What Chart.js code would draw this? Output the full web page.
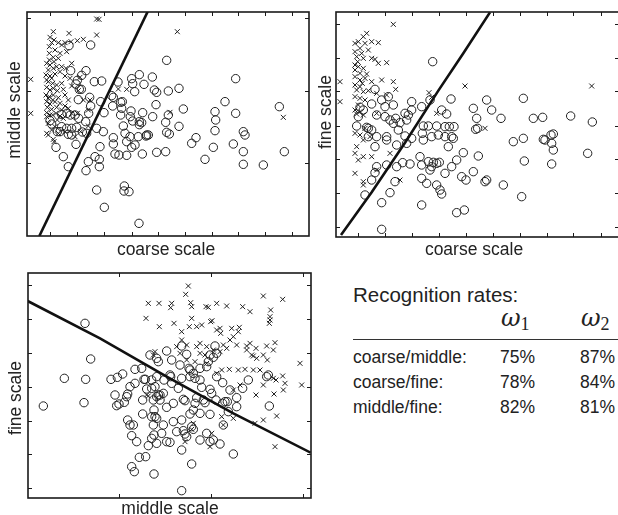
<!DOCTYPE html>
<html lang="en">

<head>
    <meta charset="UTF-8">
    <title>Recognition rates</title>
    <style>
        body {
            margin: 0;
            background: #fff;
            font-family: "Liberation Sans", Arial, sans-serif;
            color: #222;
        }

        #page {
            position: relative;
            width: 618px;
            height: 515px;
            overflow: hidden;
        }

        canvas {
            position: absolute;
        }

        .lbl {
            position: absolute;
            font-size: 17.5px;
            line-height: 20px;
            height: 20px;
            white-space: nowrap;
        }

        .rot {
            transform: translate(-50%, -50%) rotate(-90deg);
        }

        .hor {
            transform: translate(-50%, -50%);
        }

        .omega {
            font-family: "DejaVu Serif", "Liberation Serif", serif;
            font-style: italic;
            font-size: 24px;
        }

        .omega sub {
            font-family: "Liberation Serif", serif;
            font-style: normal;
            font-size: 18px;
            vertical-align: -4px;
        }
    </style>
</head>

<body>
    <div id="page">
        <canvas id="cmChart"></canvas>
        <canvas id="cfChart"></canvas>
        <canvas id="mfChart"></canvas>

        <div class="lbl rot" style="left:14px; top:110px;">middle scale</div>
        <div class="lbl hor" style="left:166px; top:249px;">coarse scale</div>
        <div class="lbl rot" style="left:325px; top:112px;">fine scale</div>
        <div class="lbl hor" style="left:474px; top:249px;">coarse scale</div>
        <div class="lbl rot" style="left:15px; top:398px;">fine scale</div>
        <div class="lbl hor" style="left:170px; top:508px;">middle scale</div>

        <div id="table"></div>
    </div>

    <script src="https://cdn.jsdelivr.net/npm/chart.js"></script>

    <script>
        // feature values (arbitrary units, y grows downwards)
        // coarse / middle
        const cmCircles = [[272,135],[207,137],[500,181],
            [212,212],[258,212],[245,226],[232,241],[283,245],[305,243],[238,268],[244,268],[228,252],
            [354,246],[395,236],[418,224],[457,231],[432,253],[398,251],[404,275],
            [463,270],[470,277],[505,273],[537,265],[707,236],
            [269,292],[235,299],[272,318],[340,292],[335,287],[362,307],[367,305],[365,325],[338,318],[302,305],[312,338],[266,340],[257,365],[236,355],[211,345],[201,340],[185,343],[225,345],[150,362],[155,372],
            [393,333],[398,363],[428,338],[468,314],[418,365],[425,368],[458,350],[362,345],[391,350],[370,378],[418,374],
            [505,345],[550,327],[537,379],[497,367],[500,397],[508,402],
            [645,335],[675,305],[707,340],[647,360],[645,392],[838,320],
            [290,385],[310,395],[260,400],[247,396],[230,382],[215,385],[200,385],[185,380],[172,395],[205,403],[215,405],[180,395],
            [340,413],[380,425],[375,400],[390,410],[395,442],[405,435],[415,410],[440,405],[445,405],[438,408],
            [300,440],[228,433],[168,442],
            [340,432],[345,462],[357,465],[380,466],[427,462],[470,457],[497,455],
            [575,430],[588,413],[640,442],[700,432],[730,395],[735,405],[730,455],[615,478],[730,493],[790,495],[853,455],
            [285,470],[298,478],[190,470],[265,485],[205,500],[298,500],[258,512],
            [290,570],[373,558],[372,573],[387,575],[313,622],[417,670]];
        const cmCrosses = [[290,57],[297,58],[532,95],[160,95],[207,100],[290,105],[150,112],[162,120],[155,128],[175,128],[195,128],[213,125],[232,122],[250,118],[185,135],[148,140],[165,150],[180,160],[160,172],[175,175],[215,190],[140,190],[150,195],[145,210],[160,205],[170,200],[138,225],[150,228],[165,222],[180,215],[195,228],[210,235],[240,232],[145,245],[158,250],[170,255],[185,250],[215,258],[140,262],[150,270],[160,265],[172,272],[190,268],[138,285],[148,290],[160,285],[175,293],[195,285],[205,300],[140,305],[150,312],[165,305],[180,310],[195,318],[142,322],[155,328],[170,322],[185,330],[205,325],[140,338],[150,345],[168,340],[180,348],[215,340],[232,340],[265,330],[250,300],[380,268],[355,267],[510,337],[92,238],[92,340],[850,352],[145,370],[165,380],[155,390],[140,400],[145,405],[160,418],[162,425],[175,400],[195,395],[242,395],[265,378],[235,272],[140,240],[155,235],[145,295],[158,300],[140,350],[158,345],[172,360],[190,355],[148,180],[162,185],[185,200],[198,205],[148,160],[200,155],[270,300],[225,410]];
        const cmBoundary = [[118,708],[443,35]];

        // coarse / fine
        const cfCircles = [[383,185],
            [210,268],[250,290],[320,305],[200,312],[230,300],[265,315],[240,320],[350,320],[375,300],[438,297],[410,330],[425,342],
            [505,325],[545,300],[560,330],[588,355],[655,295],[685,355],[713,352],[797,348],[862,366],
            [515,355],[512,388],[518,385],
            [625,425],[655,415],[715,418],[720,420],[745,402],[738,405],[740,430],[745,450],[848,460],[658,483],[740,492],[650,590],[595,555],
            [540,545],[545,540],[505,515],[483,540],[470,530],[440,500],[455,480],[475,458],[520,468],
            [478,630],[455,638],[350,615],[230,608],[255,578],[180,585],[230,688],
            [200,540],[210,518],[215,500],[245,495],[270,545],[275,500],[293,488],[315,492],
            [345,470],[350,495],[350,535],[365,550],[370,485],[385,487],[395,490],[403,487],[380,500],[375,510],[420,520],[395,555],[405,570],[410,582],
            [440,410],[430,440],[445,415],[420,380],[433,380],[447,380],[355,378],[370,378],[395,378],[400,405],[420,410],[380,410],[355,420],[352,400],
            [280,390],[300,408],[320,415],[305,430],[275,435],[245,410],[215,410],[210,440],[245,420],
            [240,350],[255,360],[265,370],[272,355],[285,368],[300,340],[310,345],[320,330],
            [215,345],[190,385],[155,378],[160,350],[165,322],[185,382],[190,410],[175,330],[200,390],[305,360]];
        const cfCrosses = [[265,73],[185,100],[175,110],[160,125],[150,130],[180,130],[200,125],[220,128],[165,145],[150,155],[170,160],[155,170],[175,175],[200,175],[210,178],[245,188],[220,190],[150,195],[160,200],[175,205],[150,210],[165,220],[185,222],[150,230],[165,240],[180,235],[200,245],[230,240],[265,245],[272,268],[150,255],[165,260],[155,270],[175,275],[190,272],[215,280],[245,285],[150,290],[165,295],[180,300],[105,245],[105,305],[480,258],[860,258],[372,278],[380,292],[395,340],[540,385],[150,330],[165,335],[155,342],[175,345],[215,340],[150,400],[165,405],[180,385],[195,410],[175,420],[150,460],[175,470],[200,470],[160,480],[150,520],[175,545],[175,555],[285,540],[255,460],[215,510],[155,440],[160,315],[172,250],[158,185],[190,150]];
        const cfBoundary = [[108,705],[200,577],[300,428],[400,272],[475,160],[555,37]];

        // middle / fine
        const mfCircles = [[255,160],[272,267],[193,325],[257,328],[130,408],[252,398],
            [333,328],[352,322],[368,312],[345,375],[350,407],[357,402],[383,372],[390,350],[405,340],[405,298],[425,295],[380,380],[373,397],
            [432,328],[436,328],[455,330],[470,320],[440,357],[455,355],[465,350],[475,375],[480,375],[490,370],[470,380],[460,390],[480,390],[428,390],[428,432],[462,420],[465,440],[455,440],[470,445],[460,465],[490,465],[485,490],[462,495],[455,505],[445,527],[470,520],[500,515],[510,517],[383,450],[390,465],[400,465],[395,497],[410,515],[418,562],[437,560],[395,590],[403,605],[462,612],[545,662],[575,582],[545,540],
            [450,255],[470,265],[475,275],[500,243],[515,270],[540,285],[545,228],[560,253],[567,295],[570,300],[580,310],[570,320],[600,295],[620,290],[625,275],[645,228],[630,255],[640,262],[650,250],[650,320],[600,330],[585,325],[545,325],[535,355],[550,388],[555,392],[510,315],[512,320],[515,340],[492,330],[520,400],[500,412],[520,455],[530,485],[545,450],[550,482],[555,492],[560,500],[575,470],[580,478],[600,510],[620,490],[630,515],[640,510],[660,522],[700,552],
            [630,433],[600,430],[580,420],[570,432],[585,400],[590,383],[610,390],[615,398],[635,370],[605,352],[630,358],[648,390],[668,400],[675,395],[682,395],[690,360],[668,338],[710,383],[710,410],[685,425],[670,465],[728,355],[745,330],[800,320],[805,315],[808,408]];
        const mfCrosses = [[565,48],[557,73],[445,100],[477,100],[515,100],[512,113],[572,98],[575,110],[618,110],[625,112],[650,100],[680,108],[728,110],[750,125],[790,78],[848,88],[812,120],[810,150],[808,160],[810,140],
            [438,145],[478,170],[522,160],[545,185],[568,170],[575,145],[590,170],[605,165],[632,155],[636,152],[650,180],[660,175],[662,190],[695,175],[718,172],[715,185],[700,200],[690,210],[670,225],[680,235],[710,225],[740,228],[750,220],[768,235],[800,228],[820,240],[825,218],[802,270],[790,255],[760,258],[770,265],
            [900,280],[905,345],[855,340],[850,360],[848,318],[820,325],[828,330],[790,345],[822,372],[768,375],[830,438],[790,450],[825,530],[765,460],
            [720,345],[700,360],[688,298],[665,300],[650,310],[620,280],[620,230],[600,220],[590,230],[540,250],[530,230],[585,275],[560,270],[465,245],[460,255],[440,375],[445,378],
            [665,440],[700,445],[670,465],[630,530],[635,490],[555,515],[580,460],[575,478],
            [760,300],[780,300],[735,298],[715,300],[755,255],[740,240],[640,240],[660,245],[615,255],[600,250],[545,210],[560,225]];
        const mfBoundary = [[83,93],[300,205],[500,320],[700,430],[932,548]];

        // tick positions (same units as the data)
        const cmTicksX = [150, 232, 313, 395, 473, 555, 635, 715, 795, 877];
        const cmTicksY = [54, 272, 490];
        const cfTicksX = [158, 240, 322, 402, 482, 565, 645, 725, 805, 887];
        const cfTicksY = [72, 175, 272, 377, 478, 580, 680];
        const mfTicksX = [357, 633, 908];
        const mfTicksY = [45, 147, 250, 350, 452, 553, 655];

        const categories = ['coarse/middle:', 'coarse/fine:', 'middle/fine:'];
        const rateOmega1 = [75, 78, 82];
        const rateOmega2 = [87, 84, 81];

        const pad = 8;
        const pts = arr => arr.map(p => ({ x: p[0], y: p[1] }));

        // frame + inward ticks, placed through the chart's own scales
        function frameTicks(tx, ty) {
            return {
                id: 'frameTicks',
                afterDatasetsDraw(chart) {
                    const c = chart.ctx, a = chart.chartArea;
                    const xs = chart.scales.x, ys = chart.scales.y;
                    c.save();
                    c.strokeStyle = '#1a1a1a';
                    c.lineWidth = 1;
                    c.beginPath();
                    for (const v of tx) {
                        const px = Math.round(xs.getPixelForValue(v)) + 0.5;
                        c.moveTo(px, a.bottom); c.lineTo(px, a.bottom - 4);
                        c.moveTo(px, a.top); c.lineTo(px, a.top + 4);
                    }
                    for (const v of ty) {
                        const py = Math.round(ys.getPixelForValue(v)) + 0.5;
                        c.moveTo(a.left, py); c.lineTo(a.left + 4, py);
                        c.moveTo(a.right, py); c.lineTo(a.right - 4, py);
                    }
                    c.stroke();
                    c.lineWidth = 1.6;
                    c.strokeRect(a.left, a.top, a.right - a.left, a.bottom - a.top);
                    c.restore();
                }
            };
        }

        function makePanel(id, box, xr, yr, tx, ty, circles, crosses, boundary) {
            const cv = document.getElementById(id);
            cv.width = box[2] - box[0] + 2 * pad;
            cv.height = box[3] - box[1] + 2 * pad;
            cv.style.left = (box[0] - pad) + 'px';
            cv.style.top = (box[1] - pad) + 'px';
            return new Chart(cv, {
                type: 'scatter',
                data: {
                    datasets: [{
                        data: pts(boundary),
                        showLine: true,
                        borderColor: '#111',
                        borderWidth: 2.6,
                        pointRadius: 0
                    }, {
                        data: pts(crosses),
                        pointStyle: 'crossRot',
                        pointRadius: 3.5,
                        borderWidth: 1,
                        borderColor: '#222'
                    }, {
                        data: pts(circles),
                        pointStyle: 'circle',
                        pointRadius: 4.2,
                        borderWidth: 1,
                        borderColor: '#222',
                        backgroundColor: 'rgba(0,0,0,0)'
                    }]
                },
                options: {
                    responsive: false,
                    animation: false,
                    events: [],
                    layout: { padding: pad },
                    scales: {
                        x: { display: false, min: xr[0], max: xr[1] },
                        y: { display: false, min: yr[0], max: yr[1], reverse: true }
                    },
                    plugins: {
                        legend: { display: false },
                        tooltip: { enabled: false }
                    }
                },
                plugins: [frameTicks(tx, ty)]
            });
        }

        makePanel('cmChart', [27, 12, 309, 236], [81, 927], [36, 708], cmTicksX, cmTicksY, cmCircles, cmCrosses, cmBoundary);
        makePanel('cfChart', [336, 12, 619, 237], [93, 942], [36, 711], cfTicksX, cfTicksY, cfCircles, cfCrosses, cfBoundary);
        makePanel('mfChart', [28, 273, 311, 498], [84, 933], [9, 684], mfTicksX, mfTicksY, mfCircles, mfCrosses, mfBoundary);

        // recognition rate table
        const table = document.getElementById('table');
        function addText(html, x, y, cls, extra) {
            const d = document.createElement('div');
            d.className = 'lbl ' + (cls || '');
            d.style.left = x + 'px';
            d.style.top = (y - 10) + 'px';
            if (extra) d.style.cssText += extra;
            d.innerHTML = html;
            table.appendChild(d);
        }
        addText('Recognition rates:', 353, 295, '', 'font-size:20.5px;');
        addText('ω<sub>1</sub>', 501, 318, 'omega');
        addText('ω<sub>2</sub>', 581, 318, 'omega');
        const rule = document.createElement('div');
        rule.style.cssText = 'position:absolute;left:353px;top:339px;width:265px;height:1px;background:#333;';
        table.appendChild(rule);
        categories.forEach((c, i) => {
            const y = 357 + i * 25;
            addText(c, 353, y);
            addText(rateOmega1[i] + '%', 500, y);
            addText(rateOmega2[i] + '%', 580, y);
        });
    </script>
</body>

</html>
